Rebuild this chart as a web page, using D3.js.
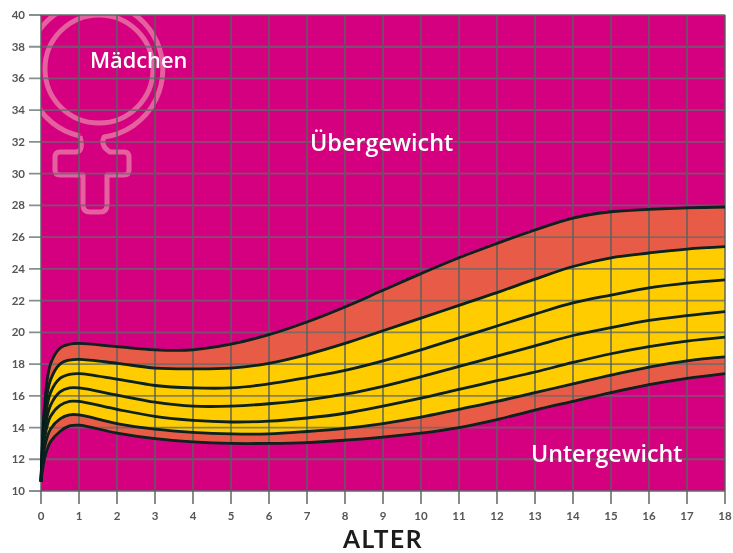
<!DOCTYPE html>
<html>
<head>
<meta charset="utf-8">
<script src="https://cdn.jsdelivr.net/npm/d3@7"></script>
<style>
    html, body { margin: 0; padding: 0; background: #fff; }
    svg { display: block; }
    .lbl { font-family: "Open Sans", sans-serif; font-weight: 600; fill: #fff; }
</style>
</head>
<body>
<div id="chart"></div>
<script>
// values
const ages = [0, 0.1, 0.25, 0.5, 0.75, 1, 2, 3, 4, 5, 6, 7, 8, 9, 10, 11, 12, 13, 14, 15, 16, 17, 18];
const line1 = [10.6, 15.6, 18.0, 19.0, 19.25, 19.3, 19.1, 18.9, 18.9, 19.25, 19.85, 20.65, 21.6, 22.65, 23.7, 24.7, 25.6, 26.45, 27.2, 27.6, 27.75, 27.85, 27.9];
const line2 = [10.6, 15.0, 17.0, 18.0, 18.25, 18.3, 18.05, 17.75, 17.7, 17.75, 18.05, 18.6, 19.3, 20.1, 20.9, 21.7, 22.5, 23.35, 24.15, 24.7, 25.0, 25.25, 25.4];
const line3 = [10.6, 14.4, 16.2, 17.1, 17.35, 17.4, 17.05, 16.65, 16.5, 16.5, 16.75, 17.15, 17.6, 18.2, 18.9, 19.65, 20.4, 21.15, 21.85, 22.35, 22.8, 23.1, 23.3];
const line4 = [10.6, 13.9, 15.4, 16.25, 16.5, 16.5, 16.05, 15.6, 15.35, 15.35, 15.5, 15.75, 16.1, 16.6, 17.2, 17.85, 18.5, 19.15, 19.8, 20.3, 20.75, 21.05, 21.3];
const line5 = [10.6, 13.4, 14.7, 15.4, 15.65, 15.65, 15.15, 14.7, 14.45, 14.35, 14.4, 14.6, 14.9, 15.35, 15.85, 16.4, 16.95, 17.5, 18.1, 18.65, 19.1, 19.45, 19.7];
const line6 = [10.6, 12.8, 13.9, 14.55, 14.8, 14.8, 14.25, 13.9, 13.7, 13.6, 13.6, 13.75, 13.95, 14.25, 14.65, 15.15, 15.65, 16.2, 16.75, 17.3, 17.8, 18.2, 18.45];
const line7 = [10.6, 12.1, 13.1, 13.75, 14.1, 14.15, 13.65, 13.3, 13.1, 13.0, 13.0, 13.05, 13.2, 13.4, 13.65, 14.0, 14.5, 15.1, 15.65, 16.2, 16.7, 17.1, 17.4];
const allLines = [line1, line2, line3, line4, line5, line6, line7];

const bandColors = ["#e85c46", "#ffcc00", "#ffcc00", "#ffcc00", "#ffcc00", "#e85c46"];
const xTicks = d3.range(0, 19);
const yTicks = d3.range(10, 41, 2);

const width = 733, height = 553;
const margin = {top: 15, right: 8, bottom: 62, left: 41};

const svg = d3.select("#chart").append("svg")
    .attr("width", width)
    .attr("height", height);

const defs = svg.append("defs");
defs.append("clipPath").attr("id", "plotClip").append("rect")
    .attr("x", margin.left).attr("y", margin.top)
    .attr("width", width - margin.left - margin.right)
    .attr("height", height - margin.top - margin.bottom);
defs.append("filter").attr("id", "soft").append("feGaussianBlur").attr("stdDeviation", 0.55);

const x = d3.scaleLinear().domain([0, 18]).range([margin.left, width - margin.right]);
const y = d3.scaleLinear().domain([10, 40]).range([height - margin.bottom, margin.top]);

const g = svg.append("g").attr("filter", "url(#soft)");

// background
g.append("rect")
    .attr("x", x(0)).attr("y", y(40))
    .attr("width", x(18) - x(0)).attr("height", y(10) - y(40))
    .attr("fill", "#d5007f");

// venus symbol behind the grid, outline in page pixels
const symbol = g.append("g").attr("clip-path", "url(#plotClip)")
    .attr("fill", "none").attr("stroke", "#e4609f").attr("stroke-width", 5);
symbol.append("circle").attr("cx", 99).attr("cy", 69).attr("r", 54);
symbol.append("path")
    .attr("stroke-linejoin", "round")
    .attr("d", "M80,136 A68,68 0 1 1 104,137 Q100,146 110,152 L124,152 Q129,152 129,157 L129,170 Q129,175 124,175 L107,175 L107,205 Q107,212 100,212 L90,212 Q83,212 83,205 L83,175 L60,175 Q55,175 55,170 L55,157 Q55,152 60,152 L76,152 Q84,152 80,136");

// bands between neighbouring curves
const curve = d3.curveCatmullRom.alpha(0.5);
const area = d3.area().x(d => x(d.age)).y0(d => y(d.lo)).y1(d => y(d.hi)).curve(curve);
bandColors.forEach((color, i) => {
    const rows = ages.map((age, j) => ({age: age, hi: allLines[i][j], lo: allLines[i + 1][j]}));
    g.append("path").attr("d", area(rows)).attr("fill", color);
});

// grid, runs out past the plot as tick marks
g.selectAll("line.h").data(yTicks).enter().append("line")
    .attr("x1", x(0) - 12).attr("x2", x(18))
    .attr("y1", d => y(d)).attr("y2", d => y(d))
    .attr("stroke", "#5f6b6b").attr("stroke-opacity", 0.75).attr("stroke-width", 1.8);
g.selectAll("line.v").data(xTicks).enter().append("line")
    .attr("x1", d => x(d)).attr("x2", d => x(d))
    .attr("y1", y(40)).attr("y2", y(10) + 13)
    .attr("stroke", "#56625f").attr("stroke-opacity", 0.8).attr("stroke-width", 1.8);

// curves
const line = d3.line().x(d => x(d.age)).y(d => y(d.v)).curve(curve);
allLines.forEach(vals => {
    g.append("path")
        .attr("d", line(ages.map((age, j) => ({age: age, v: vals[j]}))))
        .attr("fill", "none")
        .attr("stroke", "#07201f")
        .attr("stroke-width", 2.8);
});

// tick labels
g.selectAll("text.yt").data(yTicks).enter().append("text")
    .attr("x", 25).attr("y", d => y(d) + 4)
    .attr("text-anchor", "end")
    .attr("font-family", "Lato, sans-serif").attr("font-weight", 700).attr("font-size", 11.5)
    .attr("fill", "#555")
    .text(d => d);
g.selectAll("text.xt").data(xTicks).enter().append("text")
    .attr("x", d => x(d)).attr("y", 520)
    .attr("text-anchor", "middle")
    .attr("font-family", "Lato, sans-serif").attr("font-weight", 700).attr("font-size", 11.5)
    .attr("fill", "#555")
    .text(d => d);

// labels
g.append("text").attr("class", "lbl").attr("x", 90).attr("y", 68).attr("font-size", 21.8).text("Mädchen");
g.append("text").attr("class", "lbl").attr("x", 310).attr("y", 151).attr("font-size", 23.4).text("Übergewicht");
g.append("text").attr("class", "lbl").attr("x", 531).attr("y", 462).attr("font-size", 23.2).text("Untergewicht");
g.append("text").attr("x", 383).attr("y", 548)
    .attr("text-anchor", "middle")
    .attr("font-family", "Lato, sans-serif").attr("font-weight", 700).attr("font-size", 24.5)
    .attr("letter-spacing", 1.6)
    .attr("fill", "#1a1a1a")
    .text("ALTER");
</script>
</body>
</html>
